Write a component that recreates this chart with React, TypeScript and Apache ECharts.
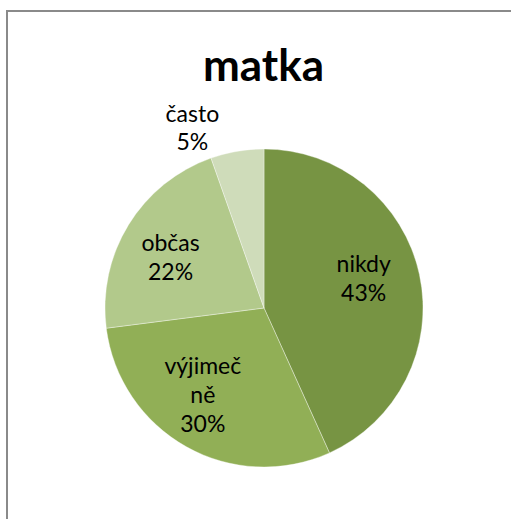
import React, { useEffect, useRef } from "react";
import * as echarts from "echarts";

const titleText = "matka";
const categories = ["nikdy", "výjimečně", "občas", "často"];
const counts = [16, 11, 8, 2];
const colors = ["#779443", "#91AF56", "#B2C98B", "#CFDCBA"];

const FONT = "Lato, 'Liberation Sans', sans-serif";

function wrapName(name: string): string {
  return name.length > 8 ? name.slice(0, 7) + "\n" + name.slice(7) : name;
}

export default function App() {
  const ref = useRef<HTMLDivElement>(null);
  useEffect(() => {
    if (!ref.current) return;
    const chart = echarts.init(ref.current, undefined, { renderer: "svg" });
    const data = categories.map((name, i) => ({
      name,
      value: counts[i],
      itemStyle: { color: colors[i] },
    }));
    const insideTweak: Record<number, [number, number]> = {
      0: [-3, -8],
      1: [-10, -6],
      2: [-4, 4],
    };
    chart.setOption({
      animation: false,
      backgroundColor: "#ffffff",
      title: {
        text: titleText,
        left: 198,
        top: 37,
        textStyle: { fontFamily: FONT, fontSize: 44, fontWeight: "bold", color: "#000" },
      },
      graphic: [
        {
          type: "rect",
          shape: { x: 7, y: 11, width: 540, height: 540 },
          style: { fill: "none", stroke: "#8a8a8a", lineWidth: 2 },
          silent: true,
        },
      ],
      series: [
        {
          type: "pie",
          center: [264, 308],
          radius: [0, 159],
          startAngle: 90,
          clockwise: true,
          percentPrecision: 0,
          label: { show: false },
          labelLine: { show: false },
          itemStyle: { borderColor: "rgba(255,255,255,0.6)", borderWidth: 0.6 },
          emphasis: { disabled: true },
          data,
        },
        {
          type: "pie",
          center: [264, 308],
          radius: [44, 160],
          startAngle: 90,
          clockwise: true,
          percentPrecision: 0,
          silent: true,
          itemStyle: { color: "rgba(0,0,0,0)" },
          label: {
            show: true,
            position: "inside",
            formatter: (p: any) => (p.dataIndex === 3 ? "" : wrapName(p.name) + "\n" + p.percent + "%"),
            fontFamily: FONT,
            fontSize: 23,
            lineHeight: 29,
            color: "#000",
            align: "center",
          },
          labelLayout: (p: any) => {
            const t = insideTweak[p.dataIndex];
            return t ? { dx: t[0], dy: t[1] } : {};
          },
          labelLine: { show: false },
          emphasis: { disabled: true },
          data: categories.map((name, i) => ({ name, value: counts[i] })),
        },
        {
          type: "pie",
          center: [264, 308],
          radius: [170, 210],
          startAngle: 90,
          clockwise: true,
          percentPrecision: 0,
          silent: true,
          itemStyle: { color: "rgba(0,0,0,0)" },
          label: {
            show: true,
            position: "inside",
            formatter: (p: any) => (p.dataIndex === 3 ? wrapName(p.name) + "\n" + p.percent + "%" : ""),
            fontFamily: FONT,
            fontSize: 23,
            lineHeight: 28,
            color: "#000",
            align: "center",
          },
          labelLayout: (p: any) => (p.dataIndex === 3 ? { dx: -39, dy: 9 } : {}),
          labelLine: { show: false },
          emphasis: { disabled: true },
          data: categories.map((name, i) => ({ name, value: counts[i] })),
        },
      ],
    });
    return () => chart.dispose();
  }, []);
  return (
    <div style={{ position: "fixed", left: 0, top: 0, width: 511, height: 519, background: "#fff" }}>
      <div ref={ref} style={{ width: 511, height: 519 }} />
    </div>
  );
}
